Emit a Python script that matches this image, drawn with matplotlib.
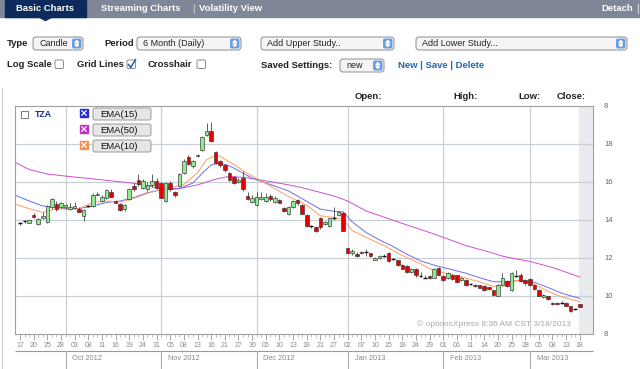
import matplotlib
matplotlib.use("Agg")
import matplotlib.pyplot as plt
import matplotlib.transforms as mtransforms
from matplotlib.patches import Rectangle, FancyBboxPatch, Polygon

plt.rcParams['font.family'] = ['Liberation Sans', 'DejaVu Sans']

# daily candles, index 0 = Sep 17 2012 ... 123 = Mar 18 2013 (trading days)
opens = [13.82, 13.91, 13.86, 14.28, 13.79, 14.10, 13.87, 14.66, 14.83, 14.69,
         14.66, 14.57, 14.62, 14.60, 14.22, 14.74, 14.74, 15.30, 15.00, 15.18,
         15.47, 15.00, 14.83, 14.57, 15.09, 15.79, 16.08, 15.70, 15.61, 15.82,
         16.05, 15.93, 15.00, 15.96, 15.47, 15.79, 16.48, 17.30, 16.83, 17.35,
         17.70, 18.49, 18.69, 17.56, 17.09, 16.87, 16.48, 16.26, 15.99, 16.22,
         15.27, 14.95, 14.80, 15.09, 15.00, 15.27, 14.95, 15.05, 14.62, 14.34,
         14.71, 15.04, 14.80, 14.26, 13.68, 13.65, 14.08, 13.79, 13.70, 14.08,
         14.26, 14.36, 12.52, 12.27, 12.22, 12.34, 12.31, 12.24, 11.92, 11.99,
         12.10, 12.27, 11.96, 11.87, 11.65, 11.58, 11.26, 11.40, 11.06, 10.98,
         11.05, 10.97, 11.47, 11.05, 10.95, 11.09, 11.09, 10.83, 10.83, 10.65,
         10.60, 10.57, 10.53, 10.45, 10.30, 10.01, 10.60, 10.78, 10.30, 11.05,
         11.09, 10.83, 10.88, 10.60, 10.30, 9.96, 9.99, 9.64, 9.64, 9.63,
         9.64, 9.47, 9.29, 9.56]
highs = [13.90, 14.00, 14.02, 14.35, 14.08, 14.40, 14.80, 15.15, 15.00, 14.95,
         14.85, 14.90, 14.95, 14.70, 14.60, 14.80, 15.40, 15.45, 15.30, 15.62,
         15.65, 15.05, 14.90, 14.85, 15.70, 15.95, 16.40, 16.15, 16.00, 16.40,
         16.20, 16.00, 16.00, 16.05, 15.55, 16.50, 17.20, 17.40, 17.15, 17.50,
         18.40, 19.09, 19.18, 17.65, 17.15, 16.95, 16.55, 16.30, 16.20, 16.60,
         15.50, 15.30, 15.50, 15.50, 15.40, 15.35, 15.25, 15.10, 14.70, 14.75,
         15.05, 15.10, 14.85, 14.30, 13.75, 13.70, 14.15, 13.95, 14.12, 14.66,
         14.50, 14.40, 12.55, 12.45, 12.30, 12.38, 12.48, 12.28, 12.05, 12.15,
         12.20, 12.30, 12.00, 11.92, 11.70, 11.62, 11.45, 11.45, 11.25, 11.10,
         11.10, 11.45, 11.55, 11.10, 11.28, 11.15, 11.12, 11.00, 10.88, 10.70,
         10.65, 10.60, 10.58, 10.50, 10.33, 10.65, 11.20, 10.82, 11.25, 11.35,
         11.20, 10.90, 10.95, 10.65, 10.35, 10.08, 10.02, 9.68, 9.68, 9.72,
         9.68, 9.50, 9.35, 9.60]
lows = [13.75, 13.85, 13.83, 14.10, 13.75, 14.05, 13.85, 14.60, 14.50, 14.65,
        14.60, 14.55, 14.60, 14.40, 13.96, 14.70, 14.70, 15.25, 14.95, 15.10,
        15.20, 14.88, 14.45, 14.50, 15.05, 15.55, 15.80, 15.65, 15.55, 15.75,
        15.65, 15.15, 14.95, 15.55, 15.20, 15.75, 16.40, 16.90, 16.75, 17.30,
        17.65, 18.40, 18.10, 16.95, 16.80, 16.55, 16.05, 15.90, 15.95, 15.55,
        15.05, 14.90, 14.75, 15.05, 14.95, 15.00, 14.90, 14.88, 14.40, 14.25,
        14.65, 14.80, 14.30, 13.65, 13.60, 13.35, 13.55, 13.75, 13.65, 14.00,
        14.20, 13.40, 12.20, 12.15, 12.05, 12.20, 12.13, 12.05, 11.88, 11.95,
        12.05, 11.78, 11.90, 11.60, 11.40, 11.22, 11.20, 11.00, 11.00, 10.93,
        10.92, 10.93, 11.08, 10.78, 10.90, 10.85, 10.70, 10.80, 10.55, 10.60,
        10.50, 10.40, 10.27, 10.30, 10.00, 9.98, 10.55, 10.50, 10.27, 11.00,
        10.72, 10.60, 10.55, 10.30, 9.98, 9.92, 9.78, 9.52, 9.53, 9.58,
        9.45, 9.18, 9.25, 9.40]
closes = [13.83, 13.93, 13.99, 14.17, 14.05, 14.19, 14.74, 15.09, 14.57, 14.87,
          14.78, 14.69, 14.74, 14.43, 14.53, 14.75, 15.30, 15.39, 15.23, 15.58,
          15.23, 14.92, 14.52, 14.78, 15.61, 15.61, 15.87, 16.05, 15.82, 16.05,
          15.70, 15.18, 15.96, 15.61, 15.30, 16.40, 17.09, 16.97, 17.09, 17.44,
          18.36, 18.66, 18.14, 17.01, 16.87, 16.61, 16.10, 15.96, 16.13, 15.61,
          15.09, 15.18, 15.23, 15.23, 15.23, 15.09, 15.18, 14.92, 14.45, 14.71,
          15.00, 14.88, 14.34, 13.70, 13.67, 13.40, 13.61, 13.91, 14.08, 14.10,
          14.43, 13.44, 12.27, 12.39, 12.10, 12.25, 12.30, 12.10, 12.01, 12.10,
          12.11, 11.82, 11.95, 11.65, 11.44, 11.26, 11.40, 11.09, 11.05, 10.97,
          10.95, 11.40, 11.12, 10.83, 11.23, 10.88, 10.74, 10.95, 10.60, 10.64,
          10.53, 10.43, 10.30, 10.38, 10.04, 10.60, 10.95, 10.53, 11.21, 11.06,
          10.78, 10.69, 10.60, 10.36, 10.01, 10.04, 9.82, 9.56, 9.57, 9.64,
          9.49, 9.21, 9.30, 9.43]

# moving averages (day index, value)
ema10_idx = [-1, 2, 5, 8, 10, 13, 16, 19, 22, 25, 28, 31, 33, 36, 39, 41, 43, 44,
             47, 50, 55, 59, 62, 64, 66, 69, 71, 73, 76, 80, 84, 88, 90, 92, 97,
             101, 104, 106, 109, 112, 116, 119, 123]
ema10 = [14.83, 14.60, 14.40, 14.60, 14.57, 14.60, 14.92, 15.00, 14.95, 15.13,
         15.40, 15.61, 15.70, 15.87, 16.49, 17.18, 17.39, 17.35, 16.92, 16.45,
         15.79, 15.23, 14.91, 14.60, 14.22, 14.13, 14.04, 13.44, 13.09, 12.65,
         12.13, 11.70, 11.43, 11.29, 11.00, 10.74, 10.50, 10.62, 10.83, 10.74,
         10.25, 9.96, 9.70]
ema15_idx = [-1, 2, 5, 8, 10, 13, 16, 19, 22, 25, 28, 31, 35, 38, 40, 42, 44, 46,
             48, 51, 55, 59, 62, 66, 69, 71, 73, 76, 79, 82, 85, 88, 91, 94, 98,
             101, 104, 107, 110, 113, 116, 119, 123]
ema15 = [15.30, 15.00, 14.74, 14.66, 14.60, 14.60, 14.74, 14.92, 15.00, 15.18,
         15.44, 15.58, 15.65, 15.95, 16.45, 16.90, 17.00, 16.85, 16.60, 16.20,
         15.87, 15.53, 15.12, 14.57, 14.46, 14.43, 13.90, 13.35, 12.95, 12.60,
         12.20, 11.85, 11.62, 11.44, 11.20, 10.96, 10.75, 10.75, 10.82, 10.72,
         10.45, 10.15, 9.87]
ema50_idx = [-1, 2, 6, 10, 17, 25, 31, 35, 39, 43, 46, 50, 55, 59, 62, 66, 69, 72,
             76, 84, 91, 95, 98, 102, 106, 108, 112, 117, 123]
ema50 = [17.02, 16.66, 16.42, 16.31, 16.14, 15.93, 15.65, 15.65, 15.85, 16.15,
         16.30, 16.22, 16.02, 15.85, 15.70, 15.45, 15.26, 15.00, 14.48, 13.82,
         13.26, 12.91, 12.65, 12.39, 12.10, 12.00, 11.82, 11.50, 11.00]

tick_labels = ['17', '20', '25', '28',
               '03', '08', '11', '16', '19', '24', '31',
               '05', '08', '13', '16', '21', '27', '30',
               '05', '10', '13', '18', '21', '27',
               '02', '07', '10', '15', '18', '24', '29',
               '01', '06', '11', '14', '20', '25', '28',
               '05', '08', '13', '18']
month_start = [10, 31, 52, 72, 93, 112]
month_names = ['Oct 2012', 'Nov 2012', 'Dec 2012', 'Jan 2013', 'Feb 2013', 'Mar 2013']
y_ticks = [8, 10, 12, 14, 16, 18, 20]
y_tick_labels = ['8', '10', '12', '14', '16', '18', '8']

fig = plt.figure(figsize=(6.4, 3.69), dpi=100)
fig.patch.set_facecolor('white')

# price chart
ax = fig.add_axes([15/640, 1 - 334/369, 578/640, 228/369])
n = len(closes)
ax.set_xlim(-1.1, 125.9)
ax.set_ylim(8, 20)
ax.axvspan(122.85, 125.9, color='#e9ebee', zorder=0)
for v in y_ticks[1:-1]:
    ax.axhline(v, color='#c8d0d6', lw=0.9, zorder=0.5)
for m in month_start:
    ax.axvline(m, color='#c8d0d6', lw=0.9, zorder=0.5)

ax.plot(ema50_idx, ema50, color='#d050d0', lw=0.7, zorder=1)
ax.plot(ema15_idx, ema15, color='#6e6ee8', lw=0.7, zorder=1)
ax.plot(ema10_idx, ema10, color='#ff9e62', lw=0.7, zorder=1)

idx = list(range(n))
ax.vlines(idx, lows, highs, color='#444444', lw=0.6, zorder=2)
for i in idx:
    o, c = opens[i], closes[i]
    body = abs(c - o)
    if body < 0.03:
        ax.hlines(c, i - 0.42, i + 0.42, color='#111111', lw=1.0, zorder=3)
        continue
    fc = '#90ea90' if c > o else '#e60000'
    ax.bar(i, body, bottom=min(o, c), width=0.78, color=fc,
           edgecolor='#333333', lw=0.45, zorder=3)

for s in ['left', 'top', 'right', 'bottom']:
    ax.spines[s].set_color('#a0a0a0')
    ax.spines[s].set_linewidth(0.8)
ax.yaxis.tick_right()
ax.set_yticks(y_ticks)
ax.set_yticklabels(y_tick_labels)
ax.tick_params(axis='y', length=0, pad=8, labelsize=5.5, labelcolor='#666666')
ax.set_xticks(range(0, n, 3))
ax.set_xticklabels(tick_labels)
ax.set_xticks(idx, minor=True)
ax.tick_params(axis='x', which='major', length=4, width=0.6, color='#999999',
               pad=1.5, labelsize=5, labelcolor='#8a8a8a')
ax.tick_params(axis='x', which='minor', length=2, width=0.5, color='#aaaaaa')

# page overlay in pixel coordinates
ui = fig.add_axes([0, 0, 1, 1], zorder=5)
ui.set_xlim(0, 640)
ui.set_ylim(369, 0)
ui.axis('off')
ui.patch.set_alpha(0)

# header tabs
ui.add_patch(Rectangle((0, 0), 640, 17, color='#7e8698'))
ui.add_patch(Rectangle((5, 0), 81, 17, color='#0c2b5c'))
ui.add_patch(Polygon([(38, 16.5), (53, 16.5), (45.5, 20.5)], color='#0c2b5c'))
hdr = dict(color='white', fontsize=6.8, fontweight='bold', va='center')
ui.text(45.5, 8.5, 'Basic Charts', ha='center', **hdr)
ui.text(141, 8.5, 'Streaming Charts', ha='center', **hdr)
ui.text(193, 8.5, '|', ha='center', color='#dddddd', fontsize=7, va='center')
ui.text(231, 8.5, 'Volatility View', ha='center', **hdr)
ui.text(633, 8.5, 'Detach', ha='right', **hdr)
ui.text(637, 8.5, '|', ha='center', color='white', fontsize=7, va='center')


def dropdown(x0, x1, y0, y1, label):
    ui.add_patch(FancyBboxPatch((x0, y0), x1 - x0, y1 - y0,
                                boxstyle='round,pad=0,rounding_size=3',
                                fc='#f5f5f5', ec='#8c8c8c', lw=0.7))
    ui.add_patch(FancyBboxPatch((x1 - 11, y0 + 1.5), 9.5, y1 - y0 - 3,
                                boxstyle='round,pad=0,rounding_size=2',
                                fc='#6a9fe6', ec='none'))
    cx, cy = x1 - 6.25, (y0 + y1) / 2
    ui.add_patch(Polygon([(cx - 1.8, cy - 0.8), (cx + 1.8, cy - 0.8), (cx, cy - 3)], color='white'))
    ui.add_patch(Polygon([(cx - 1.8, cy + 0.8), (cx + 1.8, cy + 0.8), (cx, cy + 3)], color='white'))
    ui.text(x0 + 6, cy, label, fontsize=6.5, color='#222222', va='center')


def checkbox(x, y, checked=False):
    ui.add_patch(FancyBboxPatch((x, y), 8.5, 8.5, boxstyle='round,pad=0,rounding_size=1.5',
                                fc='white', ec='#8c8c8c', lw=0.7))
    if checked:
        ui.plot([x + 1.5, x + 3.8, x + 8.5], [y + 4.5, y + 7.5, y - 0.5],
                color='#2a5db0', lw=1.1)


lab = dict(fontsize=6.8, fontweight='bold', color='#222222', va='center')
ui.text(7, 43.5, 'Type', **lab)
dropdown(33, 83, 37, 50, 'Candle')
ui.text(104, 43.5, 'Period', **lab)
dropdown(137, 241, 37, 50, '6 Month (Daily)')
dropdown(261, 394, 37, 50, 'Add Upper Study..')
dropdown(416, 627, 37, 50, 'Add Lower Study...')

ui.text(7, 64.5, 'Log Scale', **lab)
checkbox(55, 60)
ui.text(77, 64.5, 'Grid Lines', **lab)
checkbox(127, 60, checked=True)
ui.text(148, 64.5, 'Crosshair', **lab)
checkbox(197, 60)
ui.text(261, 65.5, 'Saved Settings:', **lab)
dropdown(340, 384, 59, 72, 'new')
ui.text(398, 65.5, 'New | Save | Delete', fontsize=6.8, fontweight='bold',
        color='#2565a8', va='center')

# chart header
ui.vlines(2, 88, 369, color='#cccccc', lw=0.8)
for xx, t in [(355, 'Open:'), (453, 'High:'), (518, 'Low:'), (557, 'Close:')]:
    ui.text(xx, 96.5, t, **lab)

# series legend
ui.add_patch(Rectangle((21, 110.5), 7, 7, fc='white', ec='#777777', lw=0.7))
ui.text(35, 114.5, 'TZA', fontsize=6.3, fontweight='bold', color='#1a2a8a', va='center')
for k, (name, col) in enumerate([('EMA(15)', '#2a2ad0'), ('EMA(50)', '#c030c0'),
                                 ('EMA(10)', '#f59050')]):
    y0 = 108 + 16 * k
    ui.add_patch(Rectangle((80, y0 + 1), 8, 8, color=col))
    ui.plot([81.8, 86.2], [y0 + 2.8, y0 + 7.2], color='white', lw=0.9)
    ui.plot([81.8, 86.2], [y0 + 7.2, y0 + 2.8], color='white', lw=0.9)
    ui.add_patch(FancyBboxPatch((93, y0), 58, 12, boxstyle='round,pad=0,rounding_size=2',
                                fc='#e6e6e6', ec='#9a9a9a', lw=0.7))
    ui.text(119, y0 + 6.3, name, fontsize=6.8, color='#111111', ha='center', va='center')

ui.text(494, 324, '\u00a9 optionsXpress 8:36 AM CST 3/18/2013', ha='center', va='center',
        fontsize=6, color='#a8a8a8')

# month strip under the date ticks
trans = mtransforms.blended_transform_factory(ax.transData, ui.transData)
ui.hlines(351, 15, 593, color='#9a9a9a', lw=0.8)
for m, name in zip(month_start, month_names):
    ui.plot([m, m], [351, 369], transform=trans, color='#a8a8a8', lw=0.8)
    ui.text(m + 1.5, 358.5, name, transform=trans, fontsize=5.3, color='#8a8a8a', va='center')

fig.savefig('out.png', dpi=100)
